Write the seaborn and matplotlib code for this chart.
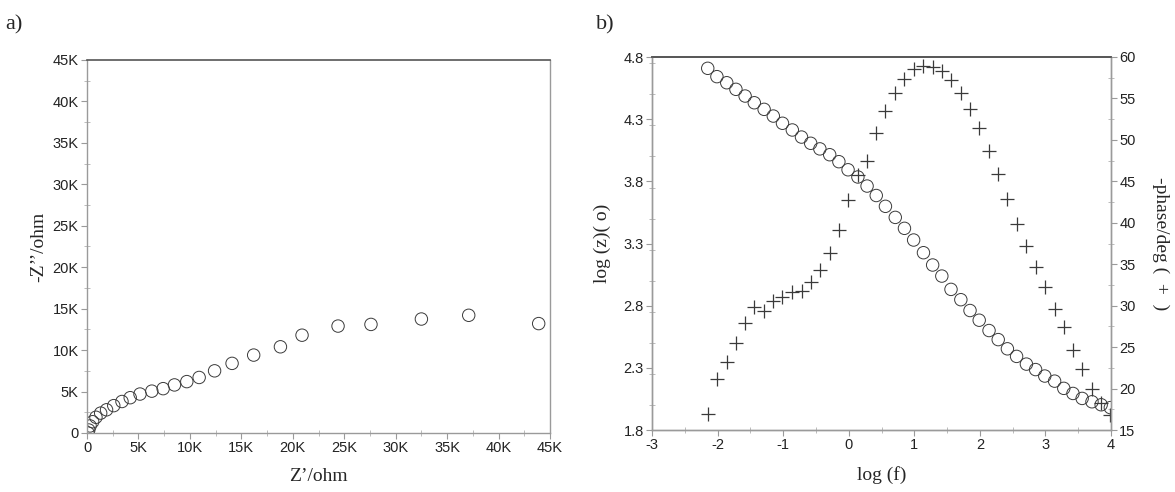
import matplotlib
matplotlib.use("Agg")
import matplotlib.pyplot as plt
from matplotlib.ticker import MultipleLocator
import seaborn as sns
import pandas as pd

# ---------------- data ----------------
# a) Nyquist plot (kOhm)
z_real_k = [0.1, 0.17, 0.3, 0.55, 0.87, 1.33, 1.9, 2.6, 3.4, 4.2, 5.15, 6.3, 7.4,
            8.5, 9.7, 10.9, 12.4, 14.1, 16.2, 18.8, 20.9, 24.4, 27.6, 32.5, 37.1, 43.9]
z_imag_k = [0.0, 0.36, 0.85, 1.36, 1.9, 2.4, 2.8, 3.3, 3.8, 4.26, 4.7, 5.05, 5.35,
            5.8, 6.2, 6.7, 7.5, 8.4, 9.4, 10.4, 11.8, 12.9, 13.1, 13.75, 14.2, 13.2]
nyq_ticks = [0, 5, 10, 15, 20, 25, 30, 35, 40, 45]
nyq_ticklabels = ["0", "5K", "10K", "15K", "20K", "25K", "30K", "35K", "40K", "45K"]

# b) Bode plot
log_f = [-2.15, -2.01, -1.86, -1.72, -1.58, -1.44, -1.29, -1.15, -1.01, -0.86, -0.72,
         -0.58, -0.44, -0.29, -0.15, -0.01, 0.14, 0.28, 0.42, 0.56, 0.71, 0.85,
         0.99, 1.14, 1.28, 1.42, 1.56, 1.71, 1.85, 1.99, 2.14, 2.28, 2.42, 2.56,
         2.71, 2.85, 2.99, 3.14, 3.28, 3.42, 3.56, 3.71, 3.85, 3.99]
log_z = [4.709, 4.642, 4.593, 4.540, 4.486, 4.432, 4.379, 4.325, 4.267, 4.213, 4.156,
         4.106, 4.061, 4.014, 3.958, 3.893, 3.835, 3.762, 3.686, 3.599, 3.510, 3.422,
         3.328, 3.226, 3.127, 3.038, 2.931, 2.848, 2.761, 2.683, 2.600, 2.527, 2.453,
         2.392, 2.330, 2.286, 2.234, 2.193, 2.135, 2.094, 2.054, 2.027, 2.003, 1.980]
phase = [16.9, 21.2, 23.2, 25.5, 27.95, 29.8, 29.3, 30.6, 31.0, 31.6, 31.8, 32.9,
         34.3, 36.3, 39.1, 42.75, 45.8, 47.4, 50.8, 53.5, 55.7, 57.4, 58.6, 58.9,
         58.8, 58.3, 57.2, 55.6, 53.7, 51.4, 48.7, 45.9, 42.9, 39.9, 37.2, 34.7,
         32.2, 29.6, 27.4, 24.7, 22.4, 20.0, 18.2, 16.8]
logz_ticks = [1.8, 2.3, 2.8, 3.3, 3.8, 4.3, 4.8]
phase_ticks = [15, 20, 25, 30, 35, 40, 45, 50, 55, 60]
logf_ticks = [-3, -2, -1, 0, 1, 2, 3, 4]

nyq = pd.DataFrame({"zr": z_real_k, "zi": z_imag_k})
bode = pd.DataFrame({"lf": log_f, "lz": log_z, "ph": phase})

# ---------------- style ----------------
sns.set_style("ticks")
plt.rcParams["font.family"] = ["Liberation Sans", "DejaVu Sans"]
SERIF = ["Liberation Serif", "DejaVu Serif"]
SPINE = "#9a9a9a"
TOP = "#555555"
MK = "#3a3a3a"

fig = plt.figure(figsize=(11.75, 4.92), dpi=100)
ax1 = fig.add_axes([87 / 1175, 1 - 433 / 492, 463 / 1175, 373 / 492])
ax2 = fig.add_axes([652 / 1175, 1 - 430 / 492, 459 / 1175, 373 / 492])


def style_axis(ax):
    for s in ["left", "bottom", "right"]:
        ax.spines[s].set_color(SPINE)
        ax.spines[s].set_linewidth(1.0)
    ax.spines["top"].set_color(TOP)
    ax.spines["top"].set_linewidth(1.2)
    ax.tick_params(which="major", direction="out", length=4, width=0.8,
                   color=SPINE, labelsize=10.5, labelcolor="#222222", pad=2)
    ax.tick_params(which="minor", direction="inout", length=4, width=0.7, color="#bbbbbb")


# ---------------- a) ----------------
sns.scatterplot(data=nyq, x="zr", y="zi", ax=ax1, marker="o", s=80,
                facecolors="none", edgecolors=MK, linewidth=0.7, legend=False)
ax1.set_xlim(0, 45)
ax1.set_ylim(0, 45)
ax1.set_xticks(nyq_ticks)
ax1.set_xticklabels(nyq_ticklabels)
ax1.set_yticks(nyq_ticks)
ax1.set_yticklabels(nyq_ticklabels)
ax1.xaxis.set_minor_locator(MultipleLocator(2.5))
ax1.yaxis.set_minor_locator(MultipleLocator(2.5))
style_axis(ax1)
ax1.spines["right"].set_visible(True)
ax1.set_xlabel("Z\u2019/ohm", fontsize=14, family=SERIF, labelpad=9)
ax1.set_ylabel("-Z\u2019\u2019/ohm", fontsize=14, family=SERIF, labelpad=4)

# ---------------- b) ----------------
sns.scatterplot(data=bode, x="lf", y="lz", ax=ax2, marker="o", s=80,
                facecolors="none", edgecolors=MK, linewidth=0.7, legend=False)
ax2.set_xlim(-3, 4)
ax2.set_ylim(1.8, 4.8)
ax2.set_xticks(logf_ticks)
ax2.set_xticklabels([str(t) for t in logf_ticks])
ax2.set_yticks(logz_ticks)
ax2.set_yticklabels([f"{t:.1f}" for t in logz_ticks])
ax2.xaxis.set_minor_locator(MultipleLocator(0.5))
ax2.yaxis.set_minor_locator(MultipleLocator(0.25))
style_axis(ax2)
ax2.set_xlabel("log (f)", fontsize=14, family=SERIF, labelpad=10)
ax2.set_ylabel("log (z)( o)", fontsize=14, family=SERIF, labelpad=9)

ax3 = ax2.twinx()
sns.scatterplot(data=bode, x="lf", y="ph", ax=ax3, marker="+", s=110,
                color=MK, linewidth=0.9, legend=False)
ax3.set_ylim(15, 60)
ax3.set_yticks(phase_ticks)
ax3.set_yticklabels([str(t) for t in phase_ticks])
ax3.yaxis.set_minor_locator(MultipleLocator(2.5))
style_axis(ax3)
ax3.set_ylabel("-phase/deg (  +  )", fontsize=14, family=SERIF, rotation=-90, labelpad=24)
ax3.set_xlabel("")

fig.text(5 / 1175, 1 - 25 / 492, "a)", fontsize=16, family=SERIF, va="center", ha="left")
fig.text(596 / 1175, 1 - 25 / 492, "b)", fontsize=16, family=SERIF, va="center", ha="left")

fig.savefig("out.png", dpi=100, facecolor="white")
